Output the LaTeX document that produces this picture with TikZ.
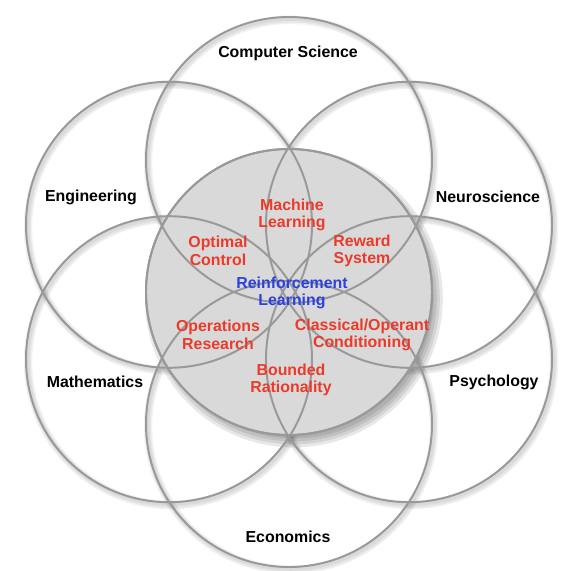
\documentclass[tikz,border=0pt]{standalone}
\usepackage{fontspec}
\setmainfont{Liberation Sans}
\usetikzlibrary{calc}

\definecolor{ringgray}{RGB}{153,153,153}
\definecolor{coregray}{RGB}{217,217,217}
\definecolor{fieldred}{RGB}{236,58,42}
\definecolor{rlblue}{RGB}{44,64,222}

\tikzset{
  field/.style={circle, draw=ringgray, line width=1.4pt, minimum size=7.15cm, inner sep=0pt},
  ringshadow/.style={circle, draw=black, draw opacity=0.05, line width=#1, minimum size=7.15cm, inner sep=0pt},
  coreshadow/.style={circle, fill=black, fill opacity=0.09, minimum size=#1, inner sep=0pt},
  core/.style={field, fill=coregray},
  fieldlabel/.style={font=\bfseries\fontsize{11.3}{12.6}\selectfont, align=center, text=black},
  overlap/.style={fieldlabel, text=fieldred},
  centre/.style={fieldlabel, text=rlblue}
}

\begin{document}
\begin{tikzpicture}
        \useasboundingbox (-7.225,-6.975) rectangle (6.975,7.3);

        % lage der aeusseren kreise
        \coordinate (pcs)    at (0,3.3);
        \coordinate (pneuro) at (3.0,1.68);
        \coordinate (ppsych) at (3.0,-1.68);
        \coordinate (pecon)  at (0,-3.3);
        \coordinate (pmath)  at (-3.0,-1.68);
        \coordinate (peng)   at (-3.0,1.68);

        % weiche schatten der aeusseren kreise
        \foreach \p in {pcs,pneuro,ppsych,pecon,pmath,peng}{
          \node[ringshadow=6pt] (s1\p) at ($(\p)+(0.05,-0.07)$) {};
          \node[ringshadow=4pt] (s2\p) at ($(\p)+(0.05,-0.07)$) {};
          \node[ringshadow=2.5pt] (s3\p) at ($(\p)+(0.04,-0.05)$) {};
        }

        % schatten des mittleren kreises
        \coordinate (pshadow) at (0.12,-0.16);
        \node[coreshadow=7.45cm] (c1) at (pshadow) {};
        \node[coreshadow=7.3cm]  (c2) at (pshadow) {};
        \node[coreshadow=7.15cm] (c3) at (pshadow) {};
        \node[coreshadow=7.0cm]  (c4) at (pshadow) {};

        % mittlerer kreis
        \node[core] (rl) at (0,0) {};

        % aeussere kreise
        \node[field] (cs)    at (pcs)    {};
        \node[field] (neuro) at (pneuro) {};
        \node[field] (psych) at (ppsych) {};
        \node[field] (econ)  at (pecon)  {};
        \node[field] (math)  at (pmath)  {};
        \node[field] (eng)   at (peng)   {};

        % rand des mittleren kreises nochmal
        \draw[ringgray, line width=1.4pt] (rl.center) circle (3.575);

        % namen der fachgebiete
        \node[fieldlabel] (cslabel)    at (-0.025,5.975) {Computer Science};
        \node[fieldlabel] (englabel)   at (-4.95,2.375)  {Engineering};
        \node[fieldlabel] (neurolabel) at (4.975,2.375)  {Neuroscience};
        \node[fieldlabel] (mathlabel)  at (-4.85,-2.25)  {Mathematics};
        \node[fieldlabel] (psychlabel) at (5.125,-2.25)  {Psychology};
        \node[fieldlabel] (econlabel)  at (-0.025,-6.125) {Economics};

        % schnittmengen
        \node[overlap] (ml)   at (0.075,1.925)  {Machine\\Learning};
        \node[overlap] (oc)   at (-1.775,1.025) {Optimal\\Control};
        \node[overlap] (rs)   at (1.825,1.025)  {Reward\\System};
        \node[overlap] (opr)  at (-1.775,-1.075) {Operations\\Research};
        \node[overlap] (cond) at (1.825,-1.075) {Classical/Operant\\Conditioning};
        \node[overlap] (br)   at (0.05,-2.2)    {Bounded\\Rationality};

        % zentrum
        \node[centre] (rllabel) at (0.075,-0.025) {Reinforcement\\Learning};
\end{tikzpicture}
\end{document}
